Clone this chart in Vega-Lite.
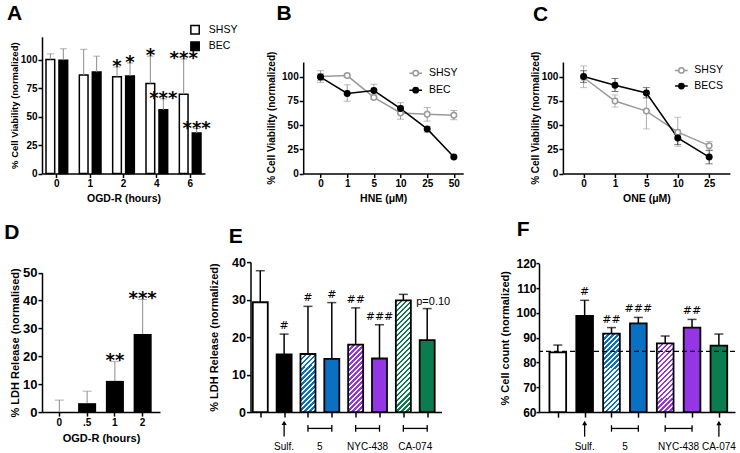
{
"$schema":"https://vega.github.io/schema/vega-lite/v6.json",
"background":"white",
"padding":{"left":4,"top":2,"right":2,"bottom":0},
"config":{
 "view":{"stroke":null},
 "font":"Liberation Sans",
 "axis":{"labelFont":"Liberation Sans","labelFontWeight":"bold","labelFontSize":10,"labelColor":"black","titleFont":"Liberation Sans","titleFontWeight":"bold","titleFontSize":10.5,"titleColor":"black","domainColor":"black","domainWidth":1.5,"tickColor":"black","tickWidth":1.5,"tickSize":4,"grid":false,"labelPadding":1,"titlePadding":5,"labelOverlap":false},
 "legend":{"labelFont":"Liberation Sans","labelFontSize":10.5,"labelColor":"black","padding":0},
 "title":{"font":"Liberation Sans","fontSize":21,"fontWeight":"bold","anchor":"start","frame":"group","color":"black","baseline":"alphabetic"}
},
"datasets":{
 "dE":[
  {"n":1,"treat":"Control","v":29.3,"hi":37.7,"sig":""},
  {"n":2,"treat":"Sulf.","v":15.4,"hi":20.8,"sig":"#"},
  {"n":3,"treat":"5","v":15.5,"hi":28.2,"sig":"#"},
  {"n":4,"treat":"5","v":14.2,"hi":29.2,"sig":"#"},
  {"n":5,"treat":"NYC-438","v":18,"hi":27.8,"sig":"##"},
  {"n":6,"treat":"NYC-438","v":14.3,"hi":23.3,"sig":"###"},
  {"n":7,"treat":"CA-074","v":29.8,"hi":31.4,"sig":""},
  {"n":8,"treat":"CA-074","v":19.2,"hi":27.6,"sig":"p=0.10"}],
 "dF":[
  {"n":1,"treat":"Control","v":84.1,"hi":87.05,"sig":""},
  {"n":2,"treat":"Sulf.","v":98.8,"hi":105.1,"sig":"#"},
  {"n":3,"treat":"5","v":91.7,"hi":94.1,"sig":"##"},
  {"n":4,"treat":"5","v":95.8,"hi":98.2,"sig":"###"},
  {"n":5,"treat":"NYC-438","v":87.7,"hi":90.7,"sig":""},
  {"n":6,"treat":"NYC-438","v":94.1,"hi":97.4,"sig":"##"},
  {"n":7,"treat":"CA-074","v":86.8,"hi":91.5,"sig":""}],
 "eAnn":[
  {"label":"Sulf.","from":2,"to":2,"kind":"arrow"},
  {"label":"5","from":3,"to":4,"kind":"bracket"},
  {"label":"NYC-438","from":5,"to":6,"kind":"bracket"},
  {"label":"CA-074","from":7,"to":8,"kind":"bracket"}],
 "fAnn":[
  {"label":"Sulf.","from":2,"to":2,"kind":"arrow"},
  {"label":"5","from":3,"to":4,"kind":"bracket"},
  {"label":"NYC-438","from":5,"to":6,"kind":"bracket"},
  {"label":"CA-074","from":7,"to":7,"kind":"arrow"}]
},
"spacing":14.1,
"resolve":{"scale":{"fill":"independent","stroke":"independent","color":"independent"},"legend":{"fill":"independent","stroke":"independent","color":"independent"}},
"vconcat":[
 {"spacing":28.2,
  "resolve":{"scale":{"fill":"independent","stroke":"independent","color":"independent"},"legend":{"fill":"independent","stroke":"independent","color":"independent"}},
  "hconcat":[
  {
   "width":163,"height":111.5,
   "title":{"text":"A","dx":-35,"offset":0.3},
   "data":{"values":[
    {"h":"0","cell":"SHSY","v":100,"hi":105,"sig":""},
    {"h":"0","cell":"BEC","v":99.5,"hi":109.5,"sig":""},
    {"h":"1","cell":"SHSY","v":86.5,"hi":109,"sig":""},
    {"h":"1","cell":"BEC","v":89,"hi":103,"sig":""},
    {"h":"2","cell":"SHSY","v":85,"hi":93.5,"sig":"*"},
    {"h":"2","cell":"BEC","v":85.5,"hi":97,"sig":"*"},
    {"h":"4","cell":"SHSY","v":79,"hi":103,"sig":"*"},
    {"h":"4","cell":"BEC","v":56,"hi":65.5,"sig":"***"},
    {"h":"6","cell":"SHSY","v":69.5,"hi":100.5,"sig":"***"},
    {"h":"6","cell":"BEC","v":35.5,"hi":39.5,"sig":"***"}]},
   "encoding":{
    "x":{"field":"h","type":"ordinal","sort":["0","1","2","4","6"],"scale":{"paddingInner":0.35,"paddingOuter":0.12},"axis":{"title":"OGD-R (hours)","labelAngle":0}},
    "xOffset":{"field":"cell","type":"nominal","sort":["SHSY","BEC"],"scale":{"paddingInner":0.33,"paddingOuter":0}}
   },
   "layer":[
    {"mark":{"type":"bar","stroke":"black","strokeWidth":1.5},
     "encoding":{
      "y":{"field":"v","type":"quantitative","title":"% Cell  Viability (normalized)","scale":{"domain":[0,120],"nice":false,"range":[111.5,-25.2]},"axis":{"values":[0,25,50,75,100],"titleFontSize":9.5,"titlePadding":1}},
      "fill":{"field":"cell","type":"nominal","sort":["SHSY","BEC"],"scale":{"domain":["SHSY","BEC"],"range":["white","black"]},
       "legend":{"title":null,"orient":"none","legendX":147.8,"legendY":-37.5,"symbolType":"square","symbolSize":70,"symbolStrokeColor":"black","symbolStrokeWidth":1.5,"labelOffset":8.5,"rowPadding":1.5}}}},
    {"mark":{"type":"rule","color":"#8c8c8c","strokeWidth":1},"encoding":{"y":{"field":"v","type":"quantitative","title":"% Cell  Viability (normalized)","axis":{"values":[0,25,50,75,100],"titleFontSize":9.5,"titlePadding":1}},"y2":{"field":"hi"}}},
    {"mark":{"type":"tick","orient":"horizontal","color":"#8c8c8c","size":7,"thickness":1},"encoding":{"y":{"field":"hi","type":"quantitative","title":"% Cell  Viability (normalized)","axis":{"values":[0,25,50,75,100],"titleFontSize":9.5,"titlePadding":1}}}},
    {"mark":{"type":"text","font":"DejaVu Sans","fontWeight":"bold","fontSize":18,"baseline":"alphabetic","dy":5.3,"color":"black"},"encoding":{"y":{"field":"hi","type":"quantitative","title":"% Cell  Viability (normalized)","axis":{"values":[0,25,50,75,100],"titleFontSize":9.5,"titlePadding":1}},"text":{"field":"sig"}}}
   ]
  },
  {"spacing":66.7,
   "resolve":{"scale":{"fill":"independent","stroke":"independent","color":"independent"},"legend":{"fill":"independent","stroke":"independent","color":"independent"}},
   "hconcat":[
   {
    "width":160,"height":111.5,
    "title":{"text":"B","dx":-26.7,"offset":25.8},
    "data":{"values":[
     {"c":0,"cell":"SHSY","v":100,"lo":94,"hi":106},
     {"c":1,"cell":"SHSY","v":101,"lo":99.5,"hi":102.5},
     {"c":5,"cell":"SHSY","v":78.5,"lo":76.5,"hi":81},
     {"c":10,"cell":"SHSY","v":62.5,"lo":56,"hi":69.5},
     {"c":25,"cell":"SHSY","v":61,"lo":54,"hi":68},
     {"c":50,"cell":"SHSY","v":60,"lo":55.5,"hi":65},
     {"c":0,"cell":"BEC","v":99.5,"lo":96,"hi":103},
     {"c":1,"cell":"BEC","v":82.5,"lo":74.5,"hi":91.5},
     {"c":5,"cell":"BEC","v":85.5,"lo":79,"hi":92},
     {"c":10,"cell":"BEC","v":67,"lo":61,"hi":73},
     {"c":25,"cell":"BEC","v":46,"lo":42.5,"hi":48.5},
     {"c":50,"cell":"BEC","v":17,"lo":16,"hi":18}]},
    "encoding":{"x":{"field":"c","type":"ordinal","scale":{"type":"point","padding":0.5,"align":0.65},"axis":{"title":"HNE (μM)","labelAngle":0}}},
    "layer":[
     {"mark":{"type":"rule","color":"#9a9a9a","strokeWidth":1},"encoding":{"y":{"field":"lo","type":"quantitative","title":"% Cell  Viability (normalized)","scale":{"domain":[0,115],"nice":false},"axis":{"values":[0,25,50,75,100],"titleFontSize":10}},"y2":{"field":"hi"}}},
     {"mark":{"type":"tick","orient":"horizontal","color":"#9a9a9a","size":7,"thickness":1},"encoding":{"y":{"field":"lo","type":"quantitative","title":"% Cell  Viability (normalized)","axis":{"values":[0,25,50,75,100],"titleFontSize":10}}}},
     {"mark":{"type":"tick","orient":"horizontal","color":"#9a9a9a","size":7,"thickness":1},"encoding":{"y":{"field":"hi","type":"quantitative","title":"% Cell  Viability (normalized)","axis":{"values":[0,25,50,75,100],"titleFontSize":10}}}},
     {"mark":{"type":"line","strokeWidth":1.5},"encoding":{
       "y":{"field":"v","type":"quantitative","title":"% Cell  Viability (normalized)","axis":{"values":[0,25,50,75,100],"titleFontSize":10}},
       "stroke":{"field":"cell","type":"nominal","scale":{"domain":["SHSY","BEC"],"range":["#999999","#000000"]},
        "legend":{"title":null,"orient":"none","legendX":105,"legendY":3.7,"symbolType":"M-1,0L-0.42,0M0.42,0L1,0M-0.42,0A0.42,0.42,0,1,1,0.42,0A0.42,0.42,0,1,1,-0.42,0Z","symbolSize":160,"symbolStrokeWidth":1.5,"labelOffset":5.7,"rowPadding":3,
         "encode":{"symbols":{"update":{"fill":{"signal":"datum.value==='SHSY'?'white':'black'"}}}}}}}},
     {"mark":{"type":"circle","size":30,"strokeWidth":1.5,"opacity":1},"encoding":{"y":{"field":"v","type":"quantitative","title":"% Cell  Viability (normalized)","axis":{"values":[0,25,50,75,100],"titleFontSize":10}},"stroke":{"field":"cell","type":"nominal","legend":null},"fill":{"condition":{"test":"datum.cell==='SHSY'","value":"white"},"value":"black"}}}
    ]
   },
   {
    "width":167,"height":111.5,
    "title":{"text":"C","dx":-30,"offset":25.8},
    "data":{"values":[
     {"c":0,"cell":"SHSY","v":99,"lo":88.6,"hi":111},
     {"c":1,"cell":"SHSY","v":74.7,"lo":68.5,"hi":81},
     {"c":5,"cell":"SHSY","v":64.4,"lo":46,"hi":82},
     {"c":10,"cell":"SHSY","v":42.6,"lo":28,"hi":58},
     {"c":25,"cell":"SHSY","v":28.7,"lo":23.5,"hi":33},
     {"c":0,"cell":"BECS","v":100,"lo":94,"hi":106},
     {"c":1,"cell":"BECS","v":91,"lo":84.6,"hi":98},
     {"c":5,"cell":"BECS","v":83,"lo":78,"hi":88.6},
     {"c":10,"cell":"BECS","v":36.7,"lo":29.8,"hi":40},
     {"c":25,"cell":"BECS","v":17,"lo":10,"hi":24}]},
    "encoding":{"x":{"field":"c","type":"ordinal","scale":{"type":"point","padding":0.66},"axis":{"title":"ONE (μM)","labelAngle":0}}},
    "layer":[
     {"mark":{"type":"rule","strokeWidth":1},"encoding":{"y":{"field":"lo","type":"quantitative","title":"% Cell Viability (normalized)","scale":{"domain":[0,115],"nice":false},"axis":{"values":[0,25,50,75,100],"titleFontSize":10,"titlePadding":1}},"y2":{"field":"hi"},"stroke":{"condition":{"test":"datum.cell==='SHSY'","value":"#aaaaaa"},"value":"#444444"}}},
     {"mark":{"type":"tick","orient":"horizontal","size":7,"thickness":1},"encoding":{"y":{"field":"lo","type":"quantitative","title":"% Cell Viability (normalized)","axis":{"values":[0,25,50,75,100],"titleFontSize":10,"titlePadding":1}},"color":{"condition":{"test":"datum.cell==='SHSY'","value":"#aaaaaa"},"value":"#444444"}}},
     {"mark":{"type":"tick","orient":"horizontal","size":7,"thickness":1},"encoding":{"y":{"field":"hi","type":"quantitative","title":"% Cell Viability (normalized)","axis":{"values":[0,25,50,75,100],"titleFontSize":10,"titlePadding":1}},"color":{"condition":{"test":"datum.cell==='SHSY'","value":"#aaaaaa"},"value":"#444444"}}},
     {"mark":{"type":"line","strokeWidth":1.5},"encoding":{
       "y":{"field":"v","type":"quantitative","title":"% Cell Viability (normalized)","axis":{"values":[0,25,50,75,100],"titleFontSize":10,"titlePadding":1}},
       "stroke":{"field":"cell","type":"nominal","scale":{"domain":["SHSY","BECS"],"range":["#999999","#000000"]},
        "legend":{"title":null,"orient":"none","legendX":111,"legendY":0.9,"symbolType":"M-1,0L-0.42,0M0.42,0L1,0M-0.42,0A0.42,0.42,0,1,1,0.42,0A0.42,0.42,0,1,1,-0.42,0Z","symbolSize":160,"symbolStrokeWidth":1.5,"labelOffset":5.4,"rowPadding":1.7,
         "encode":{"symbols":{"update":{"fill":{"signal":"datum.value==='SHSY'?'white':'black'"}}}}}}}},
     {"mark":{"type":"circle","size":30,"strokeWidth":1.5,"opacity":1},"encoding":{"y":{"field":"v","type":"quantitative","title":"% Cell Viability (normalized)","axis":{"values":[0,25,50,75,100],"titleFontSize":10,"titlePadding":1}},"stroke":{"field":"cell","type":"nominal","legend":null},"fill":{"condition":{"test":"datum.cell==='SHSY'","value":"white"},"value":"black"}}}
    ]
   }
  ]}
 ]},
 {"spacing":48.5,
  "resolve":{"scale":{"fill":"independent","stroke":"independent","color":"independent"},"legend":{"fill":"independent","stroke":"independent","color":"independent"}},
  "hconcat":[
  {
   "width":118,"height":150,
   "title":{"text":"D","dx":-37.7,"offset":19.6},
   "data":{"values":[
    {"h":"0","v":0,"hi":4.3,"sig":""},
    {"h":".5","v":3.2,"hi":7.5,"sig":""},
    {"h":"1","v":11.2,"hi":18.2,"sig":"**"},
    {"h":"2","v":28,"hi":40.4,"sig":"***"}]},
   "encoding":{"x":{"field":"h","type":"ordinal","sort":["0",".5","1","2"],"scale":{"paddingInner":0.35,"paddingOuter":0.3},"axis":{"title":"OGD-R (hours)","labelAngle":0,"titleFontSize":11}}},
   "layer":[
    {"mark":{"type":"bar","color":"black"},"encoding":{"y":{"field":"v","type":"quantitative","title":"% LDH Release (normalised)","scale":{"domain":[0,50],"nice":false,"range":[150,10.6]},"axis":{"values":[0,10,20,30,40,50],"labelFontSize":13,"titleFontSize":11,"titlePadding":2}}}},
    {"mark":{"type":"rule","color":"#8c8c8c","strokeWidth":1},"encoding":{"y":{"field":"v","type":"quantitative","title":"% LDH Release (normalised)","axis":{"values":[0,10,20,30,40,50],"labelFontSize":13,"titleFontSize":11,"titlePadding":2}},"y2":{"field":"hi"}}},
    {"mark":{"type":"tick","orient":"horizontal","color":"#8c8c8c","size":9,"thickness":1},"encoding":{"y":{"field":"hi","type":"quantitative","title":"% LDH Release (normalised)","axis":{"values":[0,10,20,30,40,50],"labelFontSize":13,"titleFontSize":11,"titlePadding":2}}}},
    {"mark":{"type":"text","font":"DejaVu Sans","fontWeight":"bold","fontSize":18,"baseline":"alphabetic","dy":4.5,"color":"black"},"encoding":{"y":{"field":"hi","type":"quantitative","title":"% LDH Release (normalised)","axis":{"values":[0,10,20,30,40,50],"labelFontSize":13,"titleFontSize":11,"titlePadding":2}},"text":{"field":"sig"}}}
   ]
  },
  {
   "width":191,"height":150,
   "title":{"text":"E","dx":-21.7,"offset":8.8},
   "layer":[
    {"data":{"name":"dE"},"mark":{"type":"bar","width":15,"stroke":"black","strokeWidth":1.8},"encoding":{
      "x":{"field":"n","type":"quantitative","title":null,"scale":{"domain":[0.59,8.6],"nice":false,"zero":false,"padding":0},"axis":{"values":[1,2,3,4,5,6,7,8],"labels":false,"tickSize":5}},
      "y":{"field":"v","type":"quantitative","title":"% LDH Release (normalized)","scale":{"domain":[0,40],"nice":false},"axis":{"values":[0,10,20,30,40],"labelFontSize":12.5,"titleFontSize":11,"titlePadding":12}},
      "fill":{"condition":[
        {"test":"datum.n===2","value":"black"},
        {"test":"datum.n===3","value":{"gradient":"linear","x1":0,"y1":0,"x2":0.524,"y2":2.024,"stops":[{"offset":0,"color":"#0A70C2"},{"offset":0.02,"color":"#0A70C2"},{"offset":0.02,"color":"#fff"},{"offset":0.04,"color":"#fff"},{"offset":0.04,"color":"#0A70C2"},{"offset":0.06,"color":"#0A70C2"},{"offset":0.06,"color":"#fff"},{"offset":0.08,"color":"#fff"},{"offset":0.08,"color":"#0A70C2"},{"offset":0.1,"color":"#0A70C2"},{"offset":0.1,"color":"#fff"},{"offset":0.12,"color":"#fff"},{"offset":0.12,"color":"#0A70C2"},{"offset":0.14,"color":"#0A70C2"},{"offset":0.14,"color":"#fff"},{"offset":0.16,"color":"#fff"},{"offset":0.16,"color":"#0A70C2"},{"offset":0.18,"color":"#0A70C2"},{"offset":0.18,"color":"#fff"},{"offset":0.2,"color":"#fff"},{"offset":0.2,"color":"#0A70C2"},{"offset":0.22,"color":"#0A70C2"},{"offset":0.22,"color":"#fff"},{"offset":0.24,"color":"#fff"},{"offset":0.24,"color":"#0A70C2"},{"offset":0.26,"color":"#0A70C2"},{"offset":0.26,"color":"#fff"},{"offset":0.28,"color":"#fff"},{"offset":0.28,"color":"#0A70C2"},{"offset":0.3,"color":"#0A70C2"},{"offset":0.3,"color":"#fff"},{"offset":0.32,"color":"#fff"},{"offset":0.32,"color":"#0A70C2"},{"offset":0.34,"color":"#0A70C2"},{"offset":0.34,"color":"#fff"},{"offset":0.36,"color":"#fff"},{"offset":0.36,"color":"#0A70C2"},{"offset":0.38,"color":"#0A70C2"},{"offset":0.38,"color":"#fff"},{"offset":0.4,"color":"#fff"},{"offset":0.4,"color":"#0A70C2"},{"offset":0.42,"color":"#0A70C2"},{"offset":0.42,"color":"#fff"},{"offset":0.44,"color":"#fff"},{"offset":0.44,"color":"#0A70C2"},{"offset":0.46,"color":"#0A70C2"},{"offset":0.46,"color":"#fff"},{"offset":0.48,"color":"#fff"},{"offset":0.48,"color":"#0A70C2"},{"offset":0.5,"color":"#0A70C2"},{"offset":0.5,"color":"#fff"},{"offset":0.52,"color":"#fff"},{"offset":0.52,"color":"#0A70C2"},{"offset":0.54,"color":"#0A70C2"},{"offset":0.54,"color":"#fff"},{"offset":0.56,"color":"#fff"},{"offset":0.56,"color":"#0A70C2"},{"offset":0.58,"color":"#0A70C2"},{"offset":0.58,"color":"#fff"},{"offset":0.6,"color":"#fff"},{"offset":0.6,"color":"#0A70C2"},{"offset":0.62,"color":"#0A70C2"},{"offset":0.62,"color":"#fff"},{"offset":0.64,"color":"#fff"},{"offset":0.64,"color":"#0A70C2"},{"offset":0.66,"color":"#0A70C2"},{"offset":0.66,"color":"#fff"},{"offset":0.68,"color":"#fff"},{"offset":0.68,"color":"#0A70C2"},{"offset":0.7,"color":"#0A70C2"},{"offset":0.7,"color":"#fff"},{"offset":0.72,"color":"#fff"},{"offset":0.72,"color":"#0A70C2"},{"offset":0.74,"color":"#0A70C2"},{"offset":0.74,"color":"#fff"},{"offset":0.76,"color":"#fff"},{"offset":0.76,"color":"#0A70C2"},{"offset":0.78,"color":"#0A70C2"},{"offset":0.78,"color":"#fff"},{"offset":0.8,"color":"#fff"},{"offset":0.8,"color":"#0A70C2"},{"offset":0.82,"color":"#0A70C2"},{"offset":0.82,"color":"#fff"},{"offset":0.84,"color":"#fff"},{"offset":0.84,"color":"#0A70C2"},{"offset":0.86,"color":"#0A70C2"},{"offset":0.86,"color":"#fff"},{"offset":0.88,"color":"#fff"},{"offset":0.88,"color":"#0A70C2"},{"offset":0.9,"color":"#0A70C2"},{"offset":0.9,"color":"#fff"},{"offset":0.92,"color":"#fff"},{"offset":0.92,"color":"#0A70C2"},{"offset":0.94,"color":"#0A70C2"},{"offset":0.94,"color":"#fff"},{"offset":0.96,"color":"#fff"},{"offset":0.96,"color":"#0A70C2"},{"offset":0.98,"color":"#0A70C2"},{"offset":0.98,"color":"#fff"},{"offset":1,"color":"#fff"}]}},
        {"test":"datum.n===4","value":"#0A70C2"},
        {"test":"datum.n===5","value":{"gradient":"linear","x1":0,"y1":0,"x2":0.394,"y2":1.77,"stops":[{"offset":0,"color":"#9436E3"},{"offset":0.02,"color":"#9436E3"},{"offset":0.02,"color":"#fff"},{"offset":0.04,"color":"#fff"},{"offset":0.04,"color":"#9436E3"},{"offset":0.06,"color":"#9436E3"},{"offset":0.06,"color":"#fff"},{"offset":0.08,"color":"#fff"},{"offset":0.08,"color":"#9436E3"},{"offset":0.1,"color":"#9436E3"},{"offset":0.1,"color":"#fff"},{"offset":0.12,"color":"#fff"},{"offset":0.12,"color":"#9436E3"},{"offset":0.14,"color":"#9436E3"},{"offset":0.14,"color":"#fff"},{"offset":0.16,"color":"#fff"},{"offset":0.16,"color":"#9436E3"},{"offset":0.18,"color":"#9436E3"},{"offset":0.18,"color":"#fff"},{"offset":0.2,"color":"#fff"},{"offset":0.2,"color":"#9436E3"},{"offset":0.22,"color":"#9436E3"},{"offset":0.22,"color":"#fff"},{"offset":0.24,"color":"#fff"},{"offset":0.24,"color":"#9436E3"},{"offset":0.26,"color":"#9436E3"},{"offset":0.26,"color":"#fff"},{"offset":0.28,"color":"#fff"},{"offset":0.28,"color":"#9436E3"},{"offset":0.3,"color":"#9436E3"},{"offset":0.3,"color":"#fff"},{"offset":0.32,"color":"#fff"},{"offset":0.32,"color":"#9436E3"},{"offset":0.34,"color":"#9436E3"},{"offset":0.34,"color":"#fff"},{"offset":0.36,"color":"#fff"},{"offset":0.36,"color":"#9436E3"},{"offset":0.38,"color":"#9436E3"},{"offset":0.38,"color":"#fff"},{"offset":0.4,"color":"#fff"},{"offset":0.4,"color":"#9436E3"},{"offset":0.42,"color":"#9436E3"},{"offset":0.42,"color":"#fff"},{"offset":0.44,"color":"#fff"},{"offset":0.44,"color":"#9436E3"},{"offset":0.46,"color":"#9436E3"},{"offset":0.46,"color":"#fff"},{"offset":0.48,"color":"#fff"},{"offset":0.48,"color":"#9436E3"},{"offset":0.5,"color":"#9436E3"},{"offset":0.5,"color":"#fff"},{"offset":0.52,"color":"#fff"},{"offset":0.52,"color":"#9436E3"},{"offset":0.54,"color":"#9436E3"},{"offset":0.54,"color":"#fff"},{"offset":0.56,"color":"#fff"},{"offset":0.56,"color":"#9436E3"},{"offset":0.58,"color":"#9436E3"},{"offset":0.58,"color":"#fff"},{"offset":0.6,"color":"#fff"},{"offset":0.6,"color":"#9436E3"},{"offset":0.62,"color":"#9436E3"},{"offset":0.62,"color":"#fff"},{"offset":0.64,"color":"#fff"},{"offset":0.64,"color":"#9436E3"},{"offset":0.66,"color":"#9436E3"},{"offset":0.66,"color":"#fff"},{"offset":0.68,"color":"#fff"},{"offset":0.68,"color":"#9436E3"},{"offset":0.7,"color":"#9436E3"},{"offset":0.7,"color":"#fff"},{"offset":0.72,"color":"#fff"},{"offset":0.72,"color":"#9436E3"},{"offset":0.74,"color":"#9436E3"},{"offset":0.74,"color":"#fff"},{"offset":0.76,"color":"#fff"},{"offset":0.76,"color":"#9436E3"},{"offset":0.78,"color":"#9436E3"},{"offset":0.78,"color":"#fff"},{"offset":0.8,"color":"#fff"},{"offset":0.8,"color":"#9436E3"},{"offset":0.82,"color":"#9436E3"},{"offset":0.82,"color":"#fff"},{"offset":0.84,"color":"#fff"},{"offset":0.84,"color":"#9436E3"},{"offset":0.86,"color":"#9436E3"},{"offset":0.86,"color":"#fff"},{"offset":0.88,"color":"#fff"},{"offset":0.88,"color":"#9436E3"},{"offset":0.9,"color":"#9436E3"},{"offset":0.9,"color":"#fff"},{"offset":0.92,"color":"#fff"},{"offset":0.92,"color":"#9436E3"},{"offset":0.94,"color":"#9436E3"},{"offset":0.94,"color":"#fff"},{"offset":0.96,"color":"#fff"},{"offset":0.96,"color":"#9436E3"},{"offset":0.98,"color":"#9436E3"},{"offset":0.98,"color":"#fff"},{"offset":1,"color":"#fff"}]}},
        {"test":"datum.n===6","value":"#9436E3"},
        {"test":"datum.n===7","value":{"gradient":"linear","x1":0,"y1":0,"x2":0.148,"y2":1.102,"stops":[{"offset":0,"color":"#0B7B50"},{"offset":0.02,"color":"#0B7B50"},{"offset":0.02,"color":"#fff"},{"offset":0.04,"color":"#fff"},{"offset":0.04,"color":"#0B7B50"},{"offset":0.06,"color":"#0B7B50"},{"offset":0.06,"color":"#fff"},{"offset":0.08,"color":"#fff"},{"offset":0.08,"color":"#0B7B50"},{"offset":0.1,"color":"#0B7B50"},{"offset":0.1,"color":"#fff"},{"offset":0.12,"color":"#fff"},{"offset":0.12,"color":"#0B7B50"},{"offset":0.14,"color":"#0B7B50"},{"offset":0.14,"color":"#fff"},{"offset":0.16,"color":"#fff"},{"offset":0.16,"color":"#0B7B50"},{"offset":0.18,"color":"#0B7B50"},{"offset":0.18,"color":"#fff"},{"offset":0.2,"color":"#fff"},{"offset":0.2,"color":"#0B7B50"},{"offset":0.22,"color":"#0B7B50"},{"offset":0.22,"color":"#fff"},{"offset":0.24,"color":"#fff"},{"offset":0.24,"color":"#0B7B50"},{"offset":0.26,"color":"#0B7B50"},{"offset":0.26,"color":"#fff"},{"offset":0.28,"color":"#fff"},{"offset":0.28,"color":"#0B7B50"},{"offset":0.3,"color":"#0B7B50"},{"offset":0.3,"color":"#fff"},{"offset":0.32,"color":"#fff"},{"offset":0.32,"color":"#0B7B50"},{"offset":0.34,"color":"#0B7B50"},{"offset":0.34,"color":"#fff"},{"offset":0.36,"color":"#fff"},{"offset":0.36,"color":"#0B7B50"},{"offset":0.38,"color":"#0B7B50"},{"offset":0.38,"color":"#fff"},{"offset":0.4,"color":"#fff"},{"offset":0.4,"color":"#0B7B50"},{"offset":0.42,"color":"#0B7B50"},{"offset":0.42,"color":"#fff"},{"offset":0.44,"color":"#fff"},{"offset":0.44,"color":"#0B7B50"},{"offset":0.46,"color":"#0B7B50"},{"offset":0.46,"color":"#fff"},{"offset":0.48,"color":"#fff"},{"offset":0.48,"color":"#0B7B50"},{"offset":0.5,"color":"#0B7B50"},{"offset":0.5,"color":"#fff"},{"offset":0.52,"color":"#fff"},{"offset":0.52,"color":"#0B7B50"},{"offset":0.54,"color":"#0B7B50"},{"offset":0.54,"color":"#fff"},{"offset":0.56,"color":"#fff"},{"offset":0.56,"color":"#0B7B50"},{"offset":0.58,"color":"#0B7B50"},{"offset":0.58,"color":"#fff"},{"offset":0.6,"color":"#fff"},{"offset":0.6,"color":"#0B7B50"},{"offset":0.62,"color":"#0B7B50"},{"offset":0.62,"color":"#fff"},{"offset":0.64,"color":"#fff"},{"offset":0.64,"color":"#0B7B50"},{"offset":0.66,"color":"#0B7B50"},{"offset":0.66,"color":"#fff"},{"offset":0.68,"color":"#fff"},{"offset":0.68,"color":"#0B7B50"},{"offset":0.7,"color":"#0B7B50"},{"offset":0.7,"color":"#fff"},{"offset":0.72,"color":"#fff"},{"offset":0.72,"color":"#0B7B50"},{"offset":0.74,"color":"#0B7B50"},{"offset":0.74,"color":"#fff"},{"offset":0.76,"color":"#fff"},{"offset":0.76,"color":"#0B7B50"},{"offset":0.78,"color":"#0B7B50"},{"offset":0.78,"color":"#fff"},{"offset":0.8,"color":"#fff"},{"offset":0.8,"color":"#0B7B50"},{"offset":0.82,"color":"#0B7B50"},{"offset":0.82,"color":"#fff"},{"offset":0.84,"color":"#fff"},{"offset":0.84,"color":"#0B7B50"},{"offset":0.86,"color":"#0B7B50"},{"offset":0.86,"color":"#fff"},{"offset":0.88,"color":"#fff"},{"offset":0.88,"color":"#0B7B50"},{"offset":0.9,"color":"#0B7B50"},{"offset":0.9,"color":"#fff"},{"offset":0.92,"color":"#fff"},{"offset":0.92,"color":"#0B7B50"},{"offset":0.94,"color":"#0B7B50"},{"offset":0.94,"color":"#fff"},{"offset":0.96,"color":"#fff"},{"offset":0.96,"color":"#0B7B50"},{"offset":0.98,"color":"#0B7B50"},{"offset":0.98,"color":"#fff"},{"offset":1,"color":"#fff"}]}},
        {"test":"datum.n===8","value":"#0B7B50"}],
       "value":"white"}}},
    {"data":{"name":"dE"},"mark":{"type":"rule","color":"black","strokeWidth":1.5},"encoding":{"x":{"field":"n","type":"quantitative","title":null,"axis":{"values":[1,2,3,4,5,6,7,8],"labels":false,"tickSize":5}},"y":{"field":"v","type":"quantitative","title":"% LDH Release (normalized)","axis":{"values":[0,10,20,30,40],"labelFontSize":12.5,"titleFontSize":11,"titlePadding":12}},"y2":{"field":"hi"}}},
    {"data":{"name":"dE"},"mark":{"type":"tick","orient":"horizontal","color":"black","size":9,"thickness":1.5},"encoding":{"x":{"field":"n","type":"quantitative","title":null,"axis":{"values":[1,2,3,4,5,6,7,8],"labels":false,"tickSize":5}},"y":{"field":"hi","type":"quantitative","title":"% LDH Release (normalized)","axis":{"values":[0,10,20,30,40],"labelFontSize":12.5,"titleFontSize":11,"titlePadding":12}}}},
    {"data":{"name":"dE"},"transform":[{"filter":"datum.sig!=='p=0.10'"}],"mark":{"type":"text","font":"DejaVu Sans","fontSize":11,"baseline":"alphabetic","dy":-5,"color":"black"},"encoding":{"x":{"field":"n","type":"quantitative","title":null,"axis":{"values":[1,2,3,4,5,6,7,8],"labels":false,"tickSize":5}},"y":{"field":"hi","type":"quantitative","title":"% LDH Release (normalized)","axis":{"values":[0,10,20,30,40],"labelFontSize":12.5,"titleFontSize":11,"titlePadding":12}},"text":{"field":"sig"}}},
    {"data":{"name":"dE"},"transform":[{"filter":"datum.sig==='p=0.10'"}],"mark":{"type":"text","font":"Liberation Sans","fontSize":11,"baseline":"alphabetic","dy":-4,"dx":6,"color":"black"},"encoding":{"x":{"field":"n","type":"quantitative","title":null,"axis":{"values":[1,2,3,4,5,6,7,8],"labels":false,"tickSize":5}},"y":{"field":"hi","type":"quantitative","title":"% LDH Release (normalized)","axis":{"values":[0,10,20,30,40],"labelFontSize":12.5,"titleFontSize":11,"titlePadding":12}},"text":{"field":"sig"}}},
    {"data":{"name":"eAnn"},"transform":[{"filter":"datum.kind==='arrow'"}],"mark":{"type":"rule","color":"black","strokeWidth":1.3},"encoding":{"x":{"field":"from","type":"quantitative","title":null,"axis":{"values":[1,2,3,4,5,6,7,8],"labels":false,"tickSize":5}},"y":{"datum":-6.48,"title":"% LDH Release (normalized)","axis":{"values":[0,10,20,30,40],"labelFontSize":12.5,"titleFontSize":11,"titlePadding":12}},"y2":{"datum":-3.2}}},
    {"data":{"name":"eAnn"},"transform":[{"filter":"datum.kind==='arrow'"}],"mark":{"type":"point","shape":"triangle-up","filled":true,"color":"black","opacity":1,"size":26},"encoding":{"x":{"field":"from","type":"quantitative","title":null,"axis":{"values":[1,2,3,4,5,6,7,8],"labels":false,"tickSize":5}},"y":{"datum":-2.88,"title":"% LDH Release (normalized)","axis":{"values":[0,10,20,30,40],"labelFontSize":12.5,"titleFontSize":11,"titlePadding":12}}}},
    {"data":{"name":"eAnn"},"transform":[{"filter":"datum.kind==='bracket'"}],"mark":{"type":"rule","color":"black","strokeWidth":1.3},"encoding":{"x":{"field":"from","type":"quantitative","title":null,"axis":{"values":[1,2,3,4,5,6,7,8],"labels":false,"tickSize":5}},"x2":{"field":"to"},"y":{"datum":-4.35,"title":"% LDH Release (normalized)","axis":{"values":[0,10,20,30,40],"labelFontSize":12.5,"titleFontSize":11,"titlePadding":12}}}},
    {"data":{"name":"eAnn"},"transform":[{"filter":"datum.kind==='bracket'"},{"fold":["from","to"],"as":["end","at"]}],"mark":{"type":"rule","color":"black","strokeWidth":1.3},"encoding":{"x":{"field":"at","type":"quantitative","title":null,"axis":{"values":[1,2,3,4,5,6,7,8],"labels":false,"tickSize":5}},"y":{"datum":-3.47,"title":"% LDH Release (normalized)","axis":{"values":[0,10,20,30,40],"labelFontSize":12.5,"titleFontSize":11,"titlePadding":12}},"y2":{"datum":-5.23}}},
    {"data":{"name":"eAnn"},"transform":[{"calculate":"(datum.from+datum.to)/2","as":"mid"}],"mark":{"type":"text","font":"Liberation Sans","fontSize":10,"baseline":"middle","color":"black"},"encoding":{"x":{"field":"mid","type":"quantitative","title":null,"axis":{"values":[1,2,3,4,5,6,7,8],"labels":false,"tickSize":5}},"y":{"datum":-9.28,"title":"% LDH Release (normalized)","axis":{"values":[0,10,20,30,40],"labelFontSize":12.5,"titleFontSize":11,"titlePadding":12}},"text":{"field":"label"}}}
   ]
  },
  {
   "width":196,"height":150,
   "title":{"text":"F","dx":-22.3,"offset":17.7},
   "layer":[
    {"data":{"name":"dF"},"mark":{"type":"bar","width":16.7,"stroke":"black","strokeWidth":1.8},"encoding":{
      "x":{"field":"n","type":"quantitative","title":null,"scale":{"domain":[0.3,7.6],"nice":false,"zero":false,"padding":0},"axis":{"values":[1,2,3,4,5,6,7],"labels":false,"tickSize":5}},
      "y":{"field":"v","type":"quantitative","title":"% Cell count (normalized)","scale":{"domain":[60,120],"nice":false,"zero":false,"range":[150,1.3]},"axis":{"values":[60,70,80,90,100,110,120],"labelFontSize":12,"titleFontSize":11,"titlePadding":5,"tickSize":3,"labelPadding":0}},
      "y2":{"datum":60},
      "fill":{"condition":[
        {"test":"datum.n===2","value":"black"},
        {"test":"datum.n===3","value":{"gradient":"linear","x1":0,"y1":0,"x2":0.32,"y2":1.515,"stops":[{"offset":0,"color":"#0A70C2"},{"offset":0.02,"color":"#0A70C2"},{"offset":0.02,"color":"#fff"},{"offset":0.04,"color":"#fff"},{"offset":0.04,"color":"#0A70C2"},{"offset":0.06,"color":"#0A70C2"},{"offset":0.06,"color":"#fff"},{"offset":0.08,"color":"#fff"},{"offset":0.08,"color":"#0A70C2"},{"offset":0.1,"color":"#0A70C2"},{"offset":0.1,"color":"#fff"},{"offset":0.12,"color":"#fff"},{"offset":0.12,"color":"#0A70C2"},{"offset":0.14,"color":"#0A70C2"},{"offset":0.14,"color":"#fff"},{"offset":0.16,"color":"#fff"},{"offset":0.16,"color":"#0A70C2"},{"offset":0.18,"color":"#0A70C2"},{"offset":0.18,"color":"#fff"},{"offset":0.2,"color":"#fff"},{"offset":0.2,"color":"#0A70C2"},{"offset":0.22,"color":"#0A70C2"},{"offset":0.22,"color":"#fff"},{"offset":0.24,"color":"#fff"},{"offset":0.24,"color":"#0A70C2"},{"offset":0.26,"color":"#0A70C2"},{"offset":0.26,"color":"#fff"},{"offset":0.28,"color":"#fff"},{"offset":0.28,"color":"#0A70C2"},{"offset":0.3,"color":"#0A70C2"},{"offset":0.3,"color":"#fff"},{"offset":0.32,"color":"#fff"},{"offset":0.32,"color":"#0A70C2"},{"offset":0.34,"color":"#0A70C2"},{"offset":0.34,"color":"#fff"},{"offset":0.36,"color":"#fff"},{"offset":0.36,"color":"#0A70C2"},{"offset":0.38,"color":"#0A70C2"},{"offset":0.38,"color":"#fff"},{"offset":0.4,"color":"#fff"},{"offset":0.4,"color":"#0A70C2"},{"offset":0.42,"color":"#0A70C2"},{"offset":0.42,"color":"#fff"},{"offset":0.44,"color":"#fff"},{"offset":0.44,"color":"#0A70C2"},{"offset":0.46,"color":"#0A70C2"},{"offset":0.46,"color":"#fff"},{"offset":0.48,"color":"#fff"},{"offset":0.48,"color":"#0A70C2"},{"offset":0.5,"color":"#0A70C2"},{"offset":0.5,"color":"#fff"},{"offset":0.52,"color":"#fff"},{"offset":0.52,"color":"#0A70C2"},{"offset":0.54,"color":"#0A70C2"},{"offset":0.54,"color":"#fff"},{"offset":0.56,"color":"#fff"},{"offset":0.56,"color":"#0A70C2"},{"offset":0.58,"color":"#0A70C2"},{"offset":0.58,"color":"#fff"},{"offset":0.6,"color":"#fff"},{"offset":0.6,"color":"#0A70C2"},{"offset":0.62,"color":"#0A70C2"},{"offset":0.62,"color":"#fff"},{"offset":0.64,"color":"#fff"},{"offset":0.64,"color":"#0A70C2"},{"offset":0.66,"color":"#0A70C2"},{"offset":0.66,"color":"#fff"},{"offset":0.68,"color":"#fff"},{"offset":0.68,"color":"#0A70C2"},{"offset":0.7,"color":"#0A70C2"},{"offset":0.7,"color":"#fff"},{"offset":0.72,"color":"#fff"},{"offset":0.72,"color":"#0A70C2"},{"offset":0.74,"color":"#0A70C2"},{"offset":0.74,"color":"#fff"},{"offset":0.76,"color":"#fff"},{"offset":0.76,"color":"#0A70C2"},{"offset":0.78,"color":"#0A70C2"},{"offset":0.78,"color":"#fff"},{"offset":0.8,"color":"#fff"},{"offset":0.8,"color":"#0A70C2"},{"offset":0.82,"color":"#0A70C2"},{"offset":0.82,"color":"#fff"},{"offset":0.84,"color":"#fff"},{"offset":0.84,"color":"#0A70C2"},{"offset":0.86,"color":"#0A70C2"},{"offset":0.86,"color":"#fff"},{"offset":0.88,"color":"#fff"},{"offset":0.88,"color":"#0A70C2"},{"offset":0.9,"color":"#0A70C2"},{"offset":0.9,"color":"#fff"},{"offset":0.92,"color":"#fff"},{"offset":0.92,"color":"#0A70C2"},{"offset":0.94,"color":"#0A70C2"},{"offset":0.94,"color":"#fff"},{"offset":0.96,"color":"#fff"},{"offset":0.96,"color":"#0A70C2"},{"offset":0.98,"color":"#0A70C2"},{"offset":0.98,"color":"#fff"},{"offset":1,"color":"#fff"}]}},
        {"test":"datum.n===4","value":"#0A70C2"},
        {"test":"datum.n===5","value":{"gradient":"linear","x1":0,"y1":0,"x2":0.414,"y2":1.711,"stops":[{"offset":0,"color":"#9436E3"},{"offset":0.02,"color":"#9436E3"},{"offset":0.02,"color":"#fff"},{"offset":0.04,"color":"#fff"},{"offset":0.04,"color":"#9436E3"},{"offset":0.06,"color":"#9436E3"},{"offset":0.06,"color":"#fff"},{"offset":0.08,"color":"#fff"},{"offset":0.08,"color":"#9436E3"},{"offset":0.1,"color":"#9436E3"},{"offset":0.1,"color":"#fff"},{"offset":0.12,"color":"#fff"},{"offset":0.12,"color":"#9436E3"},{"offset":0.14,"color":"#9436E3"},{"offset":0.14,"color":"#fff"},{"offset":0.16,"color":"#fff"},{"offset":0.16,"color":"#9436E3"},{"offset":0.18,"color":"#9436E3"},{"offset":0.18,"color":"#fff"},{"offset":0.2,"color":"#fff"},{"offset":0.2,"color":"#9436E3"},{"offset":0.22,"color":"#9436E3"},{"offset":0.22,"color":"#fff"},{"offset":0.24,"color":"#fff"},{"offset":0.24,"color":"#9436E3"},{"offset":0.26,"color":"#9436E3"},{"offset":0.26,"color":"#fff"},{"offset":0.28,"color":"#fff"},{"offset":0.28,"color":"#9436E3"},{"offset":0.3,"color":"#9436E3"},{"offset":0.3,"color":"#fff"},{"offset":0.32,"color":"#fff"},{"offset":0.32,"color":"#9436E3"},{"offset":0.34,"color":"#9436E3"},{"offset":0.34,"color":"#fff"},{"offset":0.36,"color":"#fff"},{"offset":0.36,"color":"#9436E3"},{"offset":0.38,"color":"#9436E3"},{"offset":0.38,"color":"#fff"},{"offset":0.4,"color":"#fff"},{"offset":0.4,"color":"#9436E3"},{"offset":0.42,"color":"#9436E3"},{"offset":0.42,"color":"#fff"},{"offset":0.44,"color":"#fff"},{"offset":0.44,"color":"#9436E3"},{"offset":0.46,"color":"#9436E3"},{"offset":0.46,"color":"#fff"},{"offset":0.48,"color":"#fff"},{"offset":0.48,"color":"#9436E3"},{"offset":0.5,"color":"#9436E3"},{"offset":0.5,"color":"#fff"},{"offset":0.52,"color":"#fff"},{"offset":0.52,"color":"#9436E3"},{"offset":0.54,"color":"#9436E3"},{"offset":0.54,"color":"#fff"},{"offset":0.56,"color":"#fff"},{"offset":0.56,"color":"#9436E3"},{"offset":0.58,"color":"#9436E3"},{"offset":0.58,"color":"#fff"},{"offset":0.6,"color":"#fff"},{"offset":0.6,"color":"#9436E3"},{"offset":0.62,"color":"#9436E3"},{"offset":0.62,"color":"#fff"},{"offset":0.64,"color":"#fff"},{"offset":0.64,"color":"#9436E3"},{"offset":0.66,"color":"#9436E3"},{"offset":0.66,"color":"#fff"},{"offset":0.68,"color":"#fff"},{"offset":0.68,"color":"#9436E3"},{"offset":0.7,"color":"#9436E3"},{"offset":0.7,"color":"#fff"},{"offset":0.72,"color":"#fff"},{"offset":0.72,"color":"#9436E3"},{"offset":0.74,"color":"#9436E3"},{"offset":0.74,"color":"#fff"},{"offset":0.76,"color":"#fff"},{"offset":0.76,"color":"#9436E3"},{"offset":0.78,"color":"#9436E3"},{"offset":0.78,"color":"#fff"},{"offset":0.8,"color":"#fff"},{"offset":0.8,"color":"#9436E3"},{"offset":0.82,"color":"#9436E3"},{"offset":0.82,"color":"#fff"},{"offset":0.84,"color":"#fff"},{"offset":0.84,"color":"#9436E3"},{"offset":0.86,"color":"#9436E3"},{"offset":0.86,"color":"#fff"},{"offset":0.88,"color":"#fff"},{"offset":0.88,"color":"#9436E3"},{"offset":0.9,"color":"#9436E3"},{"offset":0.9,"color":"#fff"},{"offset":0.92,"color":"#fff"},{"offset":0.92,"color":"#9436E3"},{"offset":0.94,"color":"#9436E3"},{"offset":0.94,"color":"#fff"},{"offset":0.96,"color":"#fff"},{"offset":0.96,"color":"#9436E3"},{"offset":0.98,"color":"#9436E3"},{"offset":0.98,"color":"#fff"},{"offset":1,"color":"#fff"}]}},
        {"test":"datum.n===6","value":"#9436E3"},
        {"test":"datum.n===7","value":"#0B7B50"}],
       "value":"white"}}},
    {"data":{"name":"dF"},"mark":{"type":"rule","color":"black","strokeWidth":1.5},"encoding":{"x":{"field":"n","type":"quantitative","title":null,"axis":{"values":[1,2,3,4,5,6,7],"labels":false,"tickSize":5}},"y":{"field":"v","type":"quantitative","title":"% Cell count (normalized)","axis":{"values":[60,70,80,90,100,110,120],"labelFontSize":12,"titleFontSize":11,"titlePadding":5,"tickSize":3,"labelPadding":0}},"y2":{"field":"hi"}}},
    {"data":{"name":"dF"},"mark":{"type":"tick","orient":"horizontal","color":"black","size":9,"thickness":1.5},"encoding":{"x":{"field":"n","type":"quantitative","title":null,"axis":{"values":[1,2,3,4,5,6,7],"labels":false,"tickSize":5}},"y":{"field":"hi","type":"quantitative","title":"% Cell count (normalized)","axis":{"values":[60,70,80,90,100,110,120],"labelFontSize":12,"titleFontSize":11,"titlePadding":5,"tickSize":3,"labelPadding":0}}}},
    {"data":{"values":[{"ref":84.5}]},"mark":{"type":"rule","strokeDash":[5,3],"strokeWidth":1.3,"color":"black"},"encoding":{"y":{"field":"ref","type":"quantitative","title":"% Cell count (normalized)","axis":{"values":[60,70,80,90,100,110,120],"labelFontSize":12,"titleFontSize":11,"titlePadding":5,"tickSize":3,"labelPadding":0}}}},
    {"data":{"name":"dF"},"mark":{"type":"text","font":"DejaVu Sans","fontSize":11,"baseline":"alphabetic","dy":-5,"color":"black"},"encoding":{"x":{"field":"n","type":"quantitative","title":null,"axis":{"values":[1,2,3,4,5,6,7],"labels":false,"tickSize":5}},"y":{"field":"hi","type":"quantitative","title":"% Cell count (normalized)","axis":{"values":[60,70,80,90,100,110,120],"labelFontSize":12,"titleFontSize":11,"titlePadding":5,"tickSize":3,"labelPadding":0}},"text":{"field":"sig"}}},
    {"data":{"name":"fAnn"},"transform":[{"filter":"datum.kind==='arrow'"}],"mark":{"type":"rule","color":"black","strokeWidth":1.3},"encoding":{"x":{"field":"from","type":"quantitative","title":null,"axis":{"values":[1,2,3,4,5,6,7],"labels":false,"tickSize":5}},"y":{"datum":50.1,"title":"% Cell count (normalized)","axis":{"values":[60,70,80,90,100,110,120],"labelFontSize":12,"titleFontSize":11,"titlePadding":5,"tickSize":3,"labelPadding":0}},"y2":{"datum":55.1}}},
    {"data":{"name":"fAnn"},"transform":[{"filter":"datum.kind==='arrow'"}],"mark":{"type":"point","shape":"triangle-up","filled":true,"color":"black","opacity":1,"size":26},"encoding":{"x":{"field":"from","type":"quantitative","title":null,"axis":{"values":[1,2,3,4,5,6,7],"labels":false,"tickSize":5}},"y":{"datum":55.6,"title":"% Cell count (normalized)","axis":{"values":[60,70,80,90,100,110,120],"labelFontSize":12,"titleFontSize":11,"titlePadding":5,"tickSize":3,"labelPadding":0}}}},
    {"data":{"name":"fAnn"},"transform":[{"filter":"datum.kind==='bracket'"}],"mark":{"type":"rule","color":"black","strokeWidth":1.3},"encoding":{"x":{"field":"from","type":"quantitative","title":null,"axis":{"values":[1,2,3,4,5,6,7],"labels":false,"tickSize":5}},"x2":{"field":"to"},"y":{"datum":53.4,"title":"% Cell count (normalized)","axis":{"values":[60,70,80,90,100,110,120],"labelFontSize":12,"titleFontSize":11,"titlePadding":5,"tickSize":3,"labelPadding":0}}}},
    {"data":{"name":"fAnn"},"transform":[{"filter":"datum.kind==='bracket'"},{"fold":["from","to"],"as":["end","at"]}],"mark":{"type":"rule","color":"black","strokeWidth":1.3},"encoding":{"x":{"field":"at","type":"quantitative","title":null,"axis":{"values":[1,2,3,4,5,6,7],"labels":false,"tickSize":5}},"y":{"datum":54.7,"title":"% Cell count (normalized)","axis":{"values":[60,70,80,90,100,110,120],"labelFontSize":12,"titleFontSize":11,"titlePadding":5,"tickSize":3,"labelPadding":0}},"y2":{"datum":52.1}}},
    {"data":{"name":"fAnn"},"transform":[{"calculate":"(datum.from+datum.to)/2","as":"mid"}],"mark":{"type":"text","font":"Liberation Sans","fontSize":10,"baseline":"middle","color":"black"},"encoding":{"x":{"field":"mid","type":"quantitative","title":null,"axis":{"values":[1,2,3,4,5,6,7],"labels":false,"tickSize":5}},"y":{"datum":45.95,"title":"% Cell count (normalized)","axis":{"values":[60,70,80,90,100,110,120],"labelFontSize":12,"titleFontSize":11,"titlePadding":5,"tickSize":3,"labelPadding":0}},"text":{"field":"label"}}}
   ]
  }
 ]}
]
}
